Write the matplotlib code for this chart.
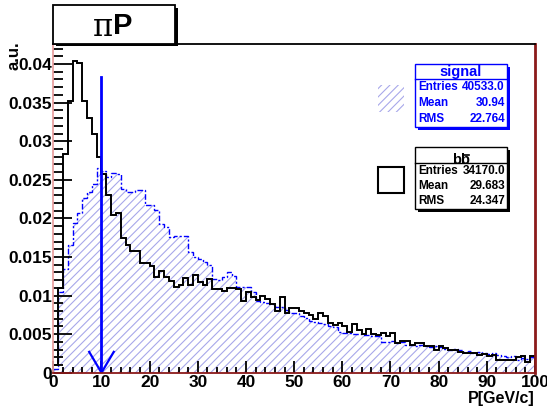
import numpy as np
import matplotlib
matplotlib.use('Agg')
import matplotlib.pyplot as plt
from matplotlib.patches import Rectangle
from matplotlib.ticker import MultipleLocator, FixedFormatter, FixedLocator

plt.rcParams['font.family'] = ['Liberation Sans', 'DejaVu Sans']
plt.rcParams['font.weight'] = 'bold'
plt.rcParams['hatch.linewidth'] = 0.8

# P bins, 1 GeV/c wide
edges = np.arange(0, 101, 1)

# signal (blue hatched)
signal = [0.0005, 0.0105, 0.0135, 0.0165, 0.0194, 0.0207, 0.0226, 0.0234, 0.0245, 0.0265,
          0.0262, 0.0254, 0.0259, 0.0257, 0.0238, 0.0234, 0.0234, 0.0237, 0.0237, 0.0217,
          0.0217, 0.0211, 0.0193, 0.0189, 0.0176, 0.0177, 0.0177, 0.0177, 0.0157, 0.0150,
          0.0148, 0.0144, 0.0139, 0.0121, 0.0120, 0.0124, 0.0131, 0.0125, 0.0111, 0.0111,
          0.0111, 0.0105, 0.0093, 0.0092, 0.0090, 0.0089, 0.0085, 0.0085, 0.0081, 0.0077,
          0.0077, 0.0073, 0.0071, 0.0067, 0.0066, 0.0064, 0.0063, 0.0060, 0.0059, 0.0053,
          0.0051, 0.0051, 0.0050, 0.0050, 0.0049, 0.0049, 0.0048, 0.0047, 0.0040, 0.0040,
          0.0041, 0.0039, 0.0040, 0.0036, 0.0036, 0.0035, 0.0036, 0.0034, 0.0033, 0.0034,
          0.0033, 0.0031, 0.0030, 0.0031, 0.0029, 0.0027, 0.0028, 0.0026, 0.0027, 0.0025,
          0.0024, 0.0025, 0.0023, 0.0021, 0.0020, 0.0021, 0.0016, 0.0019, 0.0018, 0.0020]

# b bbar background (black line)
bbbar = [0.0010, 0.0110, 0.0284, 0.0352, 0.0404, 0.0401, 0.0352, 0.0330, 0.0309, 0.0280,
         0.0258, 0.0230, 0.0205, 0.0207, 0.0175, 0.0165, 0.0158, 0.0158, 0.0142, 0.0142,
         0.0138, 0.0124, 0.0132, 0.0124, 0.0119, 0.0111, 0.0114, 0.0123, 0.0114, 0.0127,
         0.0117, 0.0114, 0.0121, 0.0109, 0.0109, 0.0106, 0.0110, 0.0110, 0.0109, 0.0093,
         0.0104, 0.0098, 0.0094, 0.0100, 0.0095, 0.0089, 0.0080, 0.0098, 0.0077, 0.0084,
         0.0084, 0.0080, 0.0078, 0.0075, 0.0070, 0.0077, 0.0073, 0.0065, 0.0062, 0.0064,
         0.0060, 0.0053, 0.0063, 0.0055, 0.0050, 0.0056, 0.0050, 0.0049, 0.0051, 0.0048,
         0.0051, 0.0038, 0.0041, 0.0041, 0.0036, 0.0039, 0.0038, 0.0034, 0.0035, 0.0030,
         0.0034, 0.0032, 0.0029, 0.0029, 0.0027, 0.0026, 0.0026, 0.0025, 0.0023, 0.0024,
         0.0022, 0.0023, 0.0016, 0.0016, 0.0017, 0.0017, 0.0020, 0.0022, 0.0014, 0.0022]

cut = 10.0  # arrow position
ytick_vals = [0, 0.005, 0.01, 0.015, 0.02, 0.025, 0.03, 0.035, 0.04]
ytick_labels = ['0', '0.005', '0.01', '0.015', '0.02', '0.025', '0.03', '0.035', '0.04']

sig_stats = [('Entries', '40533.0'), ('Mean', '30.94'), ('RMS', '22.764')]
bb_stats = [('Entries', '34170.0'), ('Mean', '29.683'), ('RMS', '24.347')]

W, H = 547, 412
fig = plt.figure(figsize=(W / 100, H / 100), dpi=100)
ax = fig.add_axes([53.3 / W, 1 - 372.7 / H, (535 - 53.3) / W, (372.7 - 44) / H])

blue = '#0000ff'
ax.stairs(signal, edges, fill=True, hatch='////', facecolor='none',
          edgecolor='#a8a8ea', linewidth=0)
ax.stairs(signal, edges, color=blue, linestyle=(0, (1.5, 1.5, 4, 1.5)), linewidth=1.0)
ax.stairs(bbbar, edges, color='black', linewidth=1.4)

# cut arrow
ax.plot([cut, cut], [0, 0.0383], color=blue, lw=2)
ax.plot([cut - 2.55, cut, cut + 2.55], [0.0027, 0, 0.0027], color=blue, lw=1.6)

ax.set_xlim(0, 100)
ax.set_ylim(0, 0.0426)
ax.xaxis.set_major_locator(MultipleLocator(10))
ax.xaxis.set_minor_locator(MultipleLocator(2))
ax.yaxis.set_major_locator(FixedLocator(ytick_vals))
ax.yaxis.set_major_formatter(FixedFormatter(ytick_labels))
ax.yaxis.set_minor_locator(MultipleLocator(0.001))
ax.tick_params(axis='both', which='both', direction='in', labelsize=12.5, width=1.3)
ax.tick_params(axis='x', which='major', length=9, pad=2)
ax.tick_params(axis='x', which='minor', length=4.5)
ax.tick_params(axis='y', which='major', length=14, pad=1)
ax.tick_params(axis='y', which='minor', length=7)
for lab in ax.get_xticklabels() + ax.get_yticklabels():
    lab.set_fontweight('bold')

ax.spines['left'].set_color('#e8a0a0')
ax.spines['bottom'].set_color('#8b1a1a')
ax.spines['right'].set_color('#8b1a1a')
ax.spines['top'].set_color('black')
for s in ax.spines.values():
    s.set_linewidth(1.3)
ax.spines['right'].set_linewidth(2)

fig.text(535 / W, 1 - 398 / H, 'P[GeV/c]', ha='right', va='center', fontsize=11.5, fontweight='bold')
fig.text(14 / W, 1 - 56 / H, 'a.u.', ha='center', va='center', rotation=90, fontsize=12, fontweight='bold')


def px(x, y, w, h):
    return (x / W, 1 - (y + h) / H, w / W, h / H)


def add_rect(x, y, w, h, **kw):
    l, b, ww, hh = px(x, y, w, h)
    fig.patches.append(Rectangle((l, b), ww, hh, transform=fig.transFigure, **kw))


def add_line(x0, x1, y, color, lw=1.0):
    fig.lines.append(plt.Line2D([x0 / W, x1 / W], [1 - y / H] * 2,
                                transform=fig.transFigure, color=color, lw=lw))


# title box
add_rect(56, 8, 122, 38, facecolor='black', edgecolor='none')
add_rect(53, 5, 122, 39, facecolor='white', edgecolor='black', linewidth=1.3)
fig.text(113 / W, 1 - 28 / H, '\u03c0', ha='right', va='center', fontsize=22,
         family='DejaVu Serif', fontweight='normal')
fig.text(113 / W, 1 - 26 / H, 'P', ha='left', va='center', fontsize=21, fontweight='bold')


def stat_box(x, y, w, h, header_h, rows, color, shadow):
    add_rect(x + 3, y + 3, w, h, facecolor=shadow, edgecolor='none')
    add_rect(x, y, w, h, facecolor='white', edgecolor=color, linewidth=1.0)
    add_line(x, x + w, y + header_h, color)
    rh = (h - header_h) / len(rows)
    for i, (k, v) in enumerate(rows):
        yy = 1 - (y + header_h + rh * (i + 0.5)) / H
        fig.text((x + 3) / W, yy, k, ha='left', va='center', fontsize=8.5, fontweight='bold', color=color)
        fig.text((x + w - 2) / W, yy, v, ha='right', va='center', fontsize=8.5, fontweight='bold', color=color)


stat_box(415, 64, 92, 63, 15, sig_stats, blue, blue)
fig.text(461 / W, 1 - 72 / H, 'signal', ha='center', va='center', fontsize=10.5,
         fontweight='bold', color=blue)
stat_box(415, 147, 92, 62, 16, bb_stats, 'black', 'black')
fig.text(461 / W, 1 - 164 / H, 'bb', ha='center', va='baseline', fontsize=10.5,
         fontweight='bold', color='black')
add_line(462.5, 469, 155, 'black', lw=1.2)

# legend markers
add_rect(378, 85, 26, 27, facecolor='none', edgecolor='#a8a8ea', hatch='////', linewidth=0)
add_rect(378, 167, 26, 26, facecolor='white', edgecolor='black', linewidth=1.5)

fig.savefig('out.png', dpi=100)
